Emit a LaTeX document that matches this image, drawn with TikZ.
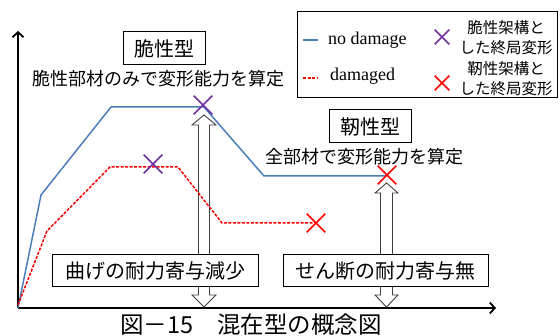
\documentclass[tikz,border=0pt]{standalone}
\usepackage{fontspec}
\setmainfont{Liberation Serif}
\newfontfamily\jpf{Noto Sans CJK JP}
\usetikzlibrary{arrows.meta,shapes.misc}
\definecolor{lineblue}{RGB}{74,126,187}
\definecolor{xpurple}{RGB}{112,48,160}
\tikzset{
  jpfont/.style={font=\jpf\fontsize{#1}{#1}\selectfont},
  axisline/.style={line width=1.8pt,-{Straight Barb[length=5pt,width=11pt]}},
  blueline/.style={lineblue,line width=1.5pt},
  redline/.style={red,line width=1.5pt,dash pattern=on 3pt off 1.5pt},
  xmark/.style={cross out,draw=#1,line width=1.6pt,minimum size=17pt,inner sep=0pt},
  smallx/.style={cross out,draw=#1,line width=1.6pt,minimum size=13pt,inner sep=0pt},
  labelbox/.style={draw,fill=white,line width=1pt,inner sep=0pt},
  dblarrow/.style={draw=black!75,fill=white,line width=0.9pt},
}
\begin{document}
\begin{tikzpicture}[x=1pt,y=-1pt]
\path[use as bounding box] (0,0) rectangle (560,336);
% axes
\coordinate (O) at (18,308);
\coordinate (ytip) at (18,31);
\coordinate (xtip) at (496,308);
\draw[axisline] (O) -- (ytip);
\draw[axisline] (O) -- (xtip);
% double arrows
\draw[dblarrow] (204,115) -- (216,125) -- (209.5,125) -- (209.5,295) -- (216,295) -- (204,307)
  -- (192,295) -- (198.5,295) -- (198.5,125) -- (192,125) -- cycle;
\draw[dblarrow] (386.5,183) -- (398,193) -- (392.5,193) -- (392.5,295) -- (398,295) -- (386.5,307)
  -- (375,295) -- (380.5,295) -- (380.5,193) -- (375,193) -- cycle;
% curves
\draw[blueline,line join=round] (18,308) -- (41,195) -- (111,107) -- (204,107) -- (264,176) -- (386,176);
\draw[redline] (18,305) -- (47,231) -- (110,167) -- (178,167) -- (222,223) -- (316,223);
% marks
\node[xmark=xpurple] (p1) at (203,105) {};
\node[xmark=xpurple] (p2) at (153,164) {};
\node[xmark=red] (r1) at (387,175) {};
\node[xmark=red] (r2) at (316,223) {};
% boxes and labels
\node[labelbox,jpfont=20,minimum width=82pt,minimum height=33pt] (brittle) at (164,48.5) {脆性型};
\node[jpfont=18,inner sep=0pt] (brittletxt) at (158,79) {脆性部材のみで変形能力を算定};
\node[labelbox,jpfont=20,minimum width=82pt,minimum height=33pt] (ductile) at (370,126.5) {靭性型};
\node[jpfont=18,inner sep=0pt] (ductiletxt) at (364,157) {全部材で変形能力を算定};
\node[labelbox,jpfont=20,minimum width=206pt,minimum height=32pt] (bend) at (155,271) {曲げの耐力寄与減少};
\node[labelbox,jpfont=20,minimum width=205pt,minimum height=32pt] (shear) at (385.5,271) {せん断の耐力寄与無};
% legend
\node[draw,line width=1pt,minimum width=260pt,minimum height=86pt,inner sep=0pt] (legend) at (427,55) {};
\coordinate (lb1) at (303,40);
\coordinate (lb2) at (318,40);
\draw[blueline] (lb1) -- (lb2);
\coordinate (lr1) at (303,78);
\coordinate (lr2) at (318,78);
\draw[redline] (lr1) -- (lr2);
\node[anchor=west,font=\fontsize{18}{18}\selectfont,inner sep=0pt] (nodmg) at (328,40) {no damage};
\node[anchor=west,font=\fontsize{18}{18}\selectfont,inner sep=0pt] (dmg) at (330,76) {damaged};
\node[smallx=xpurple] (lx1) at (442,37) {};
\node[smallx=red] (lx2) at (442,83) {};
\node[font=\jpf\fontsize{15.5}{20}\selectfont,align=center,inner sep=0pt] (lt1) at (506,38) {脆性架構と\\した終局変形};
\node[font=\jpf\fontsize{15.5}{20}\selectfont,align=center,inner sep=0pt] (lt2) at (506,79) {靭性架構と\\した終局変形};
% caption
\node[jpfont=23.5,inner sep=0pt] (caption) at (251,325) {図－15　混在型の概念図};
\end{tikzpicture}
\end{document}
